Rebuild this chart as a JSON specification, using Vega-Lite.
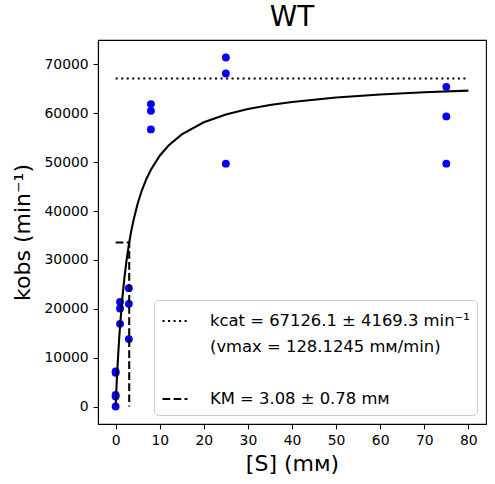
{
  "$schema": "https://vega.github.io/schema/vega-lite/v6.json",
  "autosize": "none",
  "padding": {"left": 98, "top": 40, "right": 9, "bottom": 60},
  "width": 388,
  "height": 384,
  "background": "white",
  "title": {"text": "WT", "fontSize": 27.8, "fontWeight": "normal", "offset": 8, "color": "black"},
  "datasets": {
    "points": [
      {"S": 0, "k": 0}, {"S": 0, "k": 2060}, {"S": 0, "k": 2400}, {"S": 0, "k": 6900}, {"S": 0, "k": 7170},
      {"S": 1, "k": 16920}, {"S": 1, "k": 20050}, {"S": 1, "k": 21420},
      {"S": 3, "k": 24220}, {"S": 3, "k": 21010}, {"S": 3, "k": 13800},
      {"S": 8, "k": 61880}, {"S": 8, "k": 60510}, {"S": 8, "k": 56710},
      {"S": 25, "k": 71430}, {"S": 25, "k": 68160}, {"S": 25, "k": 49700},
      {"S": 75, "k": 65420}, {"S": 75, "k": 59370}, {"S": 75, "k": 49700}
    ],
    "fit": [
      {"S": 0, "k": 0}, {"S": 0.1, "k": 2111}, {"S": 0.2, "k": 4093}, {"S": 0.4, "k": 7716},
      {"S": 0.6, "k": 10945}, {"S": 0.8, "k": 13840}, {"S": 1, "k": 16453}, {"S": 1.5, "k": 21985},
      {"S": 2, "k": 26428}, {"S": 2.5, "k": 30074}, {"S": 3, "k": 33121}, {"S": 3.5, "k": 35705},
      {"S": 4, "k": 37924}, {"S": 5, "k": 41538}, {"S": 6, "k": 44356}, {"S": 7, "k": 46615},
      {"S": 8, "k": 48467}, {"S": 10, "k": 51320}, {"S": 12, "k": 53416}, {"S": 15, "k": 55691},
      {"S": 20, "k": 58168}, {"S": 25, "k": 59763}, {"S": 30, "k": 60876}, {"S": 35, "k": 61697},
      {"S": 40, "k": 62326}, {"S": 50, "k": 63231}, {"S": 60, "k": 63849}, {"S": 70, "k": 64297},
      {"S": 80, "k": 64638}
    ],
    "refs": [
      {"series": "kcat = 67126.1 ± 4169.3 min⁻¹", "ord": 1, "S": 0, "k": 67126.1},
      {"series": "kcat = 67126.1 ± 4169.3 min⁻¹", "ord": 2, "S": 80, "k": 67126.1},
      {"series": "KM = 3.08 ± 0.78 mᴍ", "ord": 1, "S": 0, "k": 33563},
      {"series": "KM = 3.08 ± 0.78 mᴍ", "ord": 2, "S": 3.08, "k": 33563},
      {"series": "KM = 3.08 ± 0.78 mᴍ", "ord": 3, "S": 3.08, "k": 0}
    ]
  },
  "encoding": {
    "x": {
      "field": "S",
      "type": "quantitative",
      "scale": {"domain": [-4, 84], "nice": false, "zero": false},
      "axis": {"values": [0, 10, 20, 30, 40, 50, 60, 70, 80], "title": "[S] (mᴍ)", "titlePadding": 6}
    },
    "y": {
      "field": "k",
      "type": "quantitative",
      "scale": {"domain": [-3571, 75000], "nice": false, "zero": false},
      "axis": {"values": [0, 10000, 20000, 30000, 40000, 50000, 60000, 70000], "format": "d", "title": "kobs (min⁻¹)", "titlePadding": 10}
    }
  },
  "layer": [
    {
      "data": {"name": "points"},
      "mark": {"type": "circle", "color": "#0000ff", "opacity": 1, "size": 62}
    },
    {
      "data": {"name": "fit"},
      "mark": {"type": "line", "color": "black", "strokeWidth": 2.08}
    },
    {
      "data": {"name": "refs"},
      "mark": {"type": "line", "color": "black", "strokeWidth": 2.08},
      "encoding": {
        "order": {"field": "ord", "type": "quantitative"},
        "strokeDash": {
          "field": "series",
          "type": "nominal",
          "scale": {
            "domain": ["kcat = 67126.1 ± 4169.3 min⁻¹", "(vmax = 128.1245 mᴍ/min)", " ", "KM = 3.08 ± 0.78 mᴍ"],
            "range": [[2.08, 3.44], [0, 100], [0, 100], [7.7, 3.33]]
          },
          "legend": {
            "title": null,
            "orient": "bottom-right",
            "offset": 9,
            "padding": 7,
            "fillColor": "white",
            "strokeColor": "#cccccc",
            "cornerRadius": 4,
            "symbolType": "stroke",
            "symbolSize": 625,
            "symbolStrokeWidth": 2.08,
            "symbolStrokeColor": "black",
            "labelFontSize": 16.4,
            "labelColor": "black",
            "labelOffset": 21,
            "labelLimit": 400,
            "rowPadding": 3
          }
        }
      }
    }
  ],
  "config": {
    "font": "DejaVu Sans",
    "view": {"stroke": "black", "strokeWidth": 1.1},
    "axis": {
      "grid": false,
      "domainColor": "black",
      "domainWidth": 1.1,
      "tickColor": "black",
      "tickWidth": 1.1,
      "tickSize": 4.9,
      "labelFontSize": 13.9,
      "labelColor": "black",
      "labelPadding": 4.9,
      "titleFontSize": 22,
      "titleFontWeight": "normal",
      "titleColor": "black"
    }
  }
}
